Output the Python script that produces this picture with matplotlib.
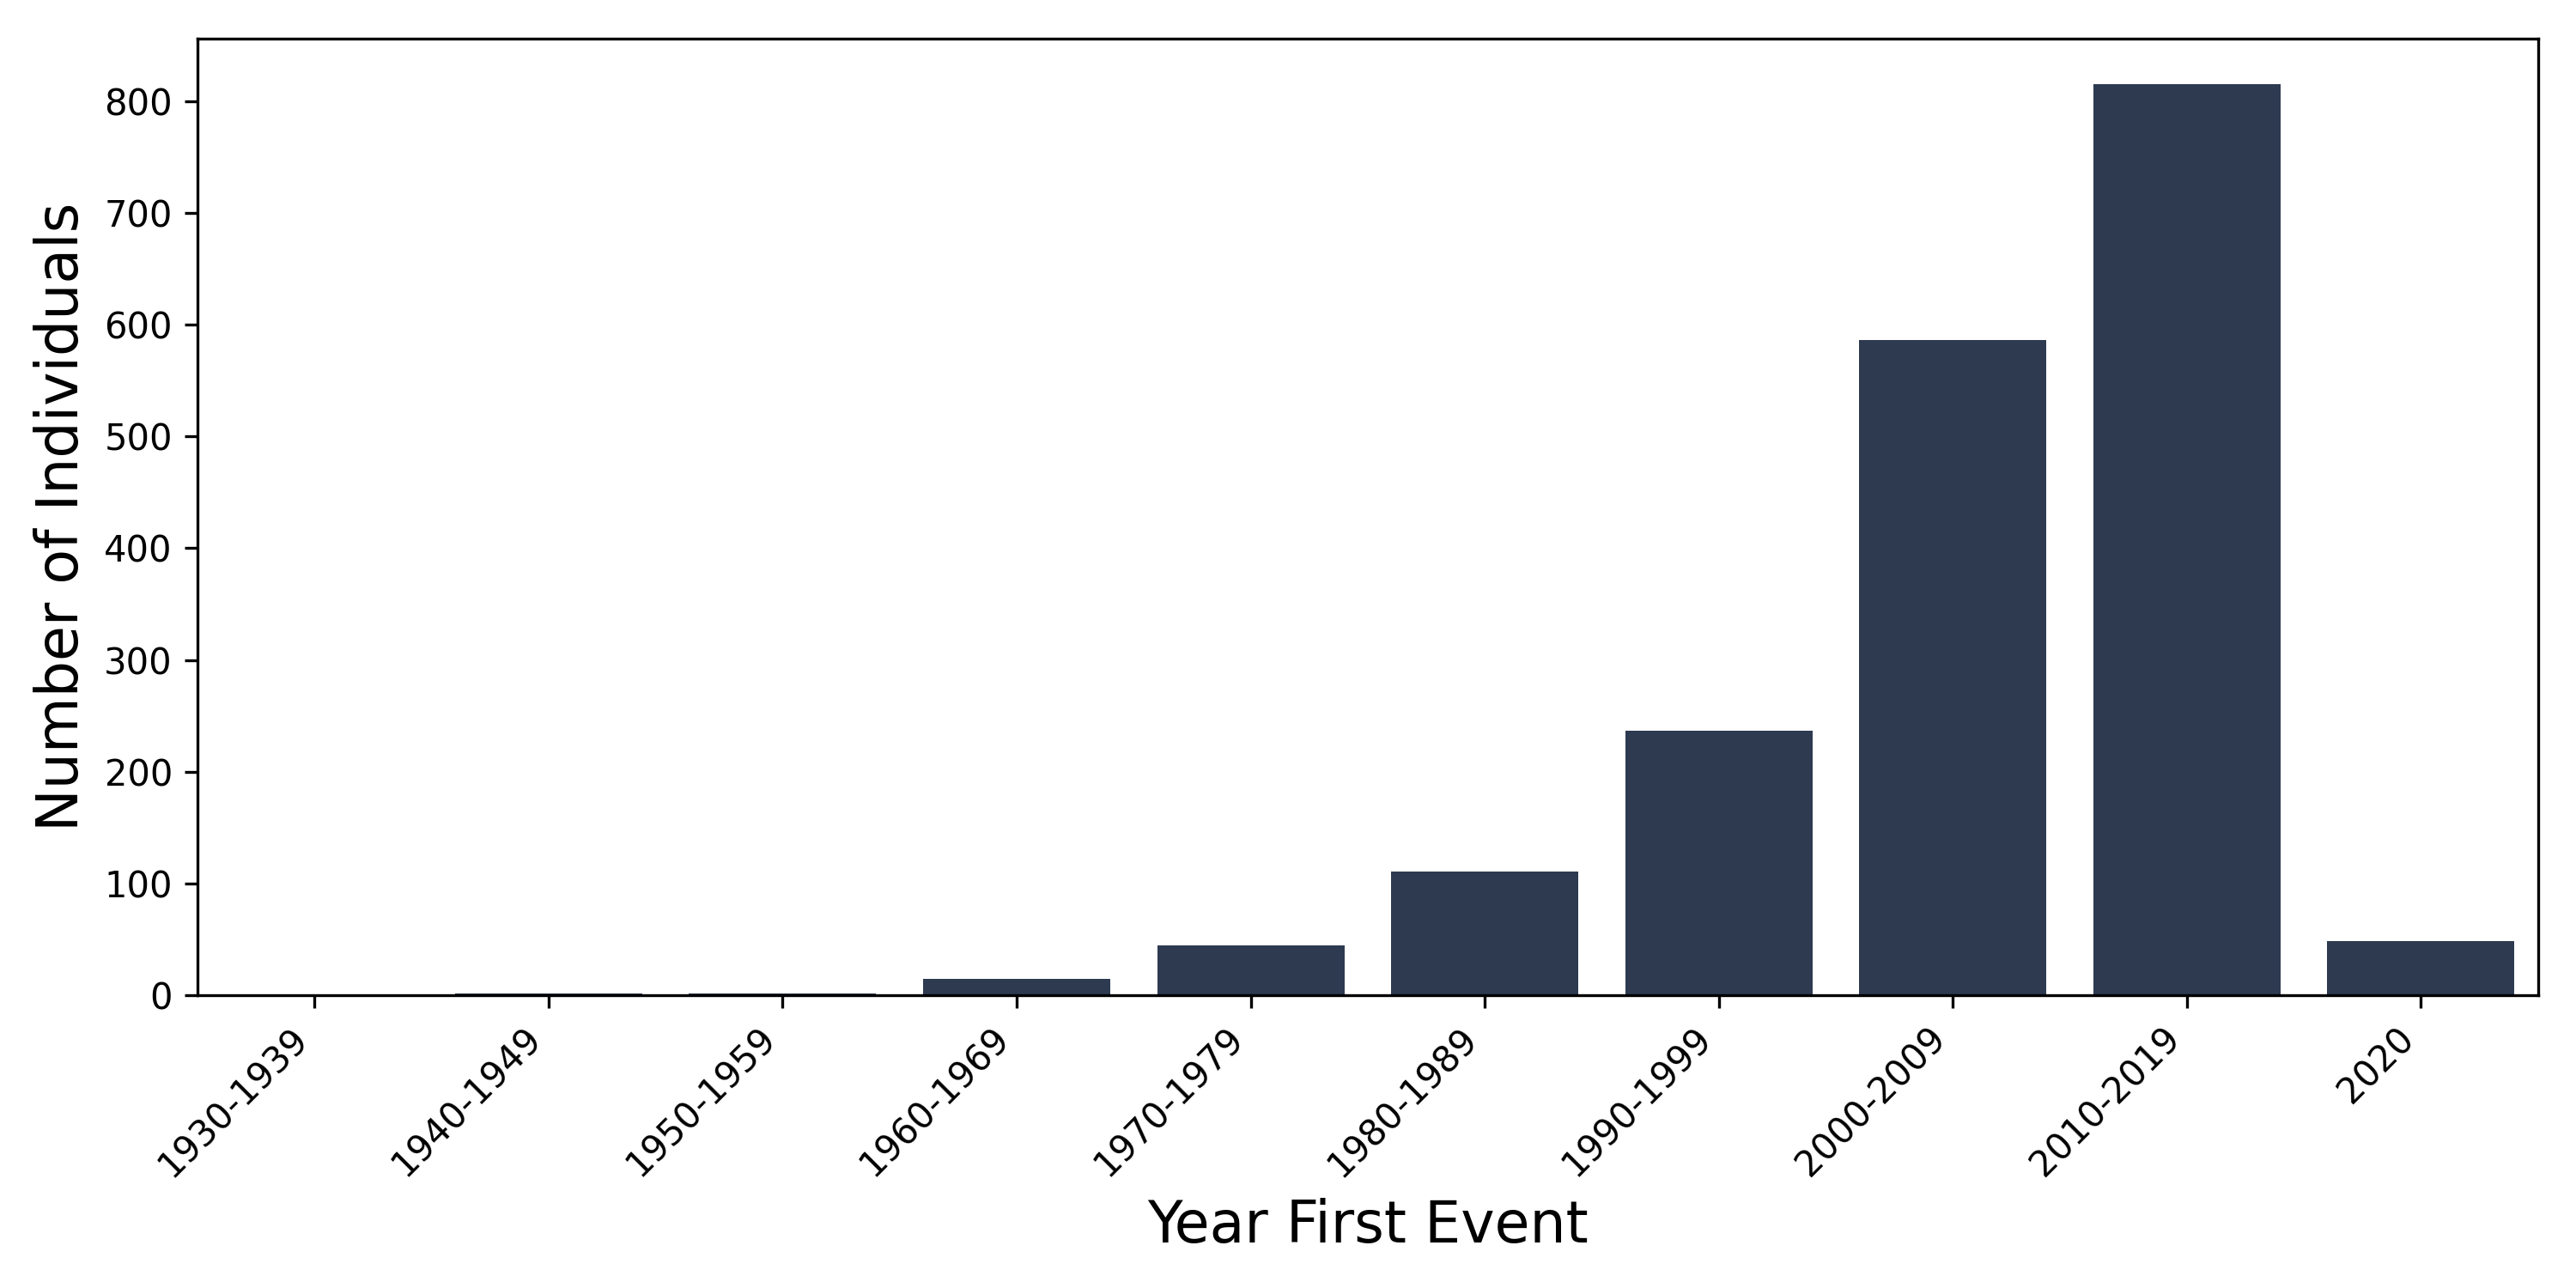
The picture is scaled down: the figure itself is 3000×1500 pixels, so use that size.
import matplotlib
matplotlib.use("Agg")
import matplotlib.pyplot as plt

categories = ["1930-1939", "1940-1949", "1950-1959", "1960-1969", "1970-1979",
              "1980-1989", "1990-1999", "2000-2009", "2010-2019", "2020"]
counts = [1, 2, 2, 15, 45, 111, 237, 586, 815, 49]

bar_color = "#2d3a50"

fig, ax = plt.subplots(figsize=(10, 5), dpi=300)
x = list(range(len(categories)))
ax.bar(x, counts, width=0.8, color=bar_color)
ax.set_xlim(-0.5, len(categories) - 0.5)
ax.set_ylim(0, max(counts) * 1.05)
ax.set_xticks(x)
ax.set_xticklabels(categories, rotation=45, ha="right", fontsize=10)
ax.tick_params(axis="y", labelsize=10)
ax.set_xlabel("Year First Event", fontsize=16)
ax.set_ylabel("Number of Individuals", fontsize=16)
fig.subplots_adjust(left=0.0767, right=0.9852, bottom=0.2271, top=0.97)
fig.savefig("out.png", dpi=300)
